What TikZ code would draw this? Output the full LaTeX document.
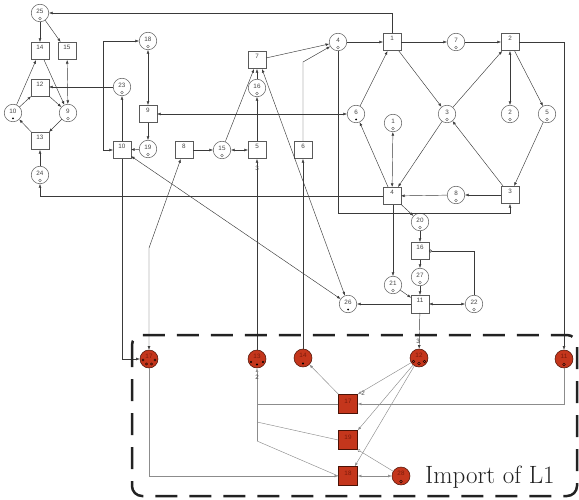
\documentclass[tikz,border=0pt]{standalone}
\usepackage{fontspec}
\newfontfamily\numfont{Liberation Sans}
\usetikzlibrary{arrows.meta}
\definecolor{ndraw}{HTML}{5A5A5A}
\definecolor{ldraw}{HTML}{3A3A3A}
\definecolor{numc}{HTML}{444444}
\definecolor{igray}{HTML}{8C8C8C}
\definecolor{ifill}{HTML}{C4361C}
\definecolor{idraw}{HTML}{4A1206}
\definecolor{inumc}{HTML}{7A1A0A}
\definecolor{dashc}{HTML}{222222}
\tikzset{
  num/.style={font=\numfont\fontsize{6.3}{7}\selectfont, text=numc, inner sep=0pt},
  inum/.style={font=\numfont\fontsize{6.3}{7}\selectfont, text=inumc, inner sep=0pt},
  plc/.style={circle, draw=ndraw, line width=0.5pt, minimum size=17.5pt, inner sep=0pt, label={[num,yshift=2pt]center:#1}},
  trn/.style={rectangle, draw=ndraw, line width=0.5pt, minimum size=17.5pt, inner sep=0pt, label={[num,yshift=4pt]center:#1}},
  iplc/.style={circle, draw=idraw, fill=ifill, line width=0.5pt, minimum size=18pt, inner sep=0pt, label={[inum,yshift=3pt]center:#1}},
  itrn/.style={rectangle, draw=idraw, fill=ifill, line width=0.5pt, minimum size=19pt, inner sep=0pt, label={[inum,yshift=3pt]center:#1}},
  omark/.style={circle, draw=ndraw, line width=0.4pt, inner sep=0pt, minimum size=2.8pt, yshift=-5.5pt},
  dmark/.style={circle, fill=black, inner sep=0pt, minimum size=2pt, yshift=-5.5pt},
  om/.style={label={[omark]center:{}}},
  dm/.style={label={[dmark]center:{}}},
  arr/.style={draw=ldraw, line width=0.45pt, -{Latex[length=3.6pt,width=2.8pt]}},
  bi/.style={draw=ldraw, line width=0.45pt, {Latex[length=3.6pt,width=2.8pt]}-{Latex[length=3.6pt,width=2.8pt]}},
  inh/.style={draw=ldraw, line width=0.45pt, -{Circle[open,length=3pt,width=3pt]}},
  iarr/.style={draw=igray, line width=0.45pt, -{Latex[length=3.6pt,width=2.8pt]}},
  ibi/.style={draw=igray, line width=0.45pt, {Latex[length=3.6pt,width=2.8pt]}-{Latex[length=3.6pt,width=2.8pt]}},
  iinh/.style={draw=igray, line width=0.45pt, -{Circle[open,length=3pt,width=3pt]}},
  iln/.style={draw=igray, line width=0.45pt},
  wt/.style={font=\numfont\fontsize{6.3}{7}\selectfont, text=numc, inner sep=0.5pt},
  tok/.style={draw=black, line width=0.4pt},
}
\begin{document}
\begin{tikzpicture}[x=1pt,y=-1pt]
\useasboundingbox (0,0) rectangle (579,500);
% ---------- places and transitions of the upper net ----------
\node[plc=25, om] (p25) at (40,13) {};
\node[trn=14] (t14) at (40,51) {};
\node[trn=15] (t15) at (67,51) {};
\node[trn=12] (t12) at (40,88) {};
\node[plc=10, dm] (p10) at (13,113) {};
\node[plc=9, om] (p9) at (68,113) {};
\node[trn=13] (t13) at (40,141) {};
\node[plc=24, om] (p24) at (40,175) {};
\node[plc=18, om] (p18) at (148,41) {};
\node[plc=23, om] (p23) at (122,87) {};
\node[trn=9] (t9) at (148,114) {};
\node[trn=10] (t10) at (122,150) {};
\node[plc=19, om] (p19) at (148,149) {};
\node[trn=8] (t8) at (184,150) {};
\node[plc=15, om] (p15) at (222,150) {};
\node[trn=5] (t5) at (257,150) {};
\node[trn=6] (t6) at (303,150) {};
\node[trn=7] (t7) at (257,60) {};
\node[plc=16, om] (p16) at (257,88) {};
\node[plc=4, om] (p4) at (338,42) {};
\node[trn=1] (t1) at (392,42) {};
\node[plc=7, om] (p7) at (456,42) {};
\node[trn=2] (t2) at (510,42) {};
\node[plc=6, dm] (p6) at (356,114) {};
\node[plc=1, om] (p1) at (393,123) {};
\node[plc=3, om] (p3) at (447,114) {};
\node[plc=2, om] (p2) at (510,114) {};
\node[plc=5, om] (p5) at (547,114) {};
\node[trn=4] (t4) at (392,196) {};
\node[plc=8, om] (p8) at (456,195) {};
\node[trn=3] (t3) at (510,195) {};
\node[plc=20, om] (p20) at (420,222) {};
\node[trn=16] (t16) at (420,251) {};
\node[plc=27, om] (p27) at (420,277) {};
\node[plc=21, om] (p21) at (393,285) {};
\node[trn=11] (t11) at (420,304) {};
\node[plc=22, om] (p22) at (474,304) {};
\node[plc=26, dm] (p26) at (348,304) {};
% ---------- import of L1 ----------
\node[iplc=17] (i17) at (149,359) {};
\node[iplc=13] (i13) at (257,359) {};
\node[iplc=14] (i14) at (303,358) {};
\node[iplc=12] (i12) at (419,358) {};
\node[iplc=11] (i11) at (564,359) {};
\node[itrn=17] (it17) at (348,404) {};
\node[itrn=19] (it19) at (348,440) {};
\node[itrn=18] (it18) at (348,476) {};
\node[iplc=28] (i28) at (401,476) {};
% tokens
\draw[tok] (i17) ++(-6,1) circle (1.2);
\draw[tok] (i17) ++(6,1) circle (1.2);
\draw[tok] (i17) ++(-2.5,5) circle (1.2);
\draw[tok] (i17) ++(2.5,5) circle (1.2);
\fill (i13) ++(-6,3) circle (1.2);
\fill (i13) ++(0,5.5) circle (1.2);
\fill (i13) ++(6,3) circle (1.2);
\fill (i14) ++(0,5.5) circle (1.2);
\draw[tok] (i12) ++(-5.5,3.5) circle (1.3);
\draw[tok] (i12) ++(0,5.5) circle (1.3);
\draw[tok] (i12) ++(5.5,3.5) circle (1.3);
\draw[tok] (i11) ++(0,5.5) circle (1.3);
\draw[tok] (i28) ++(0,5.5) circle (1.3);
% ---------- arcs, left cluster ----------
\draw[arr] (p25) -- (t14);
\draw[arr] (p25) -- (t15);
\draw[bi] (t15) -- (p9);
\draw[arr] (t14) -- (p9);
\draw[arr] (p10) -- (t14);
\draw[arr] (p10) -- (t12);
\draw[arr] (t12) -- (p9);
\draw[arr] (p9) -- (t13);
\draw[arr] (t13) -- (p10);
\draw[arr] (p24) -- (t13);
\draw[arr] (p23) -- (t12.east |- p23);
\draw[arr] (t4) -| (p24);
\draw[arr] (t1) |- (p25);
\coordinate (c18) at (103,0);
\draw[bi] (p18.west) -- (p18.west -| c18) -- (t10.west -| c18) -- (t10.west);
\draw[bi] (p18) -- (t9);
\draw[arr] (t9) -- (p19);
\draw[arr] (p19) -- (t10);
\draw[arr] (t10) -- (p23);
\draw[bi] (t9) -- (p6);
\draw[arr] (t8) -- (p15);
\draw[bi] (p15) -- (t5);
\draw[arr] (p15) -- ([xshift=-3pt]t7.south);
\draw[arr] (t5) -- (p16);
\draw[arr] (p16) -- (t7);
\draw[bi] (p26) -- ([xshift=5pt]t7.south);
\draw[arr] (t7) -- (p4);
\coordinate (c6) at (303,62);
\draw[arr] (t6) -- (c6) -- (p4);
\draw[arr] (i14) -- (t6);
\draw[arr] (i13) -- (t5);
\node[wt] (w3a) at (257,168) {3};
\draw[arr] (t10) |- (i17);
\coordinate (c8) at (149,248);
\draw[bi] (i17.north) -- (c8) -- (t8);
% ---------- arcs, right part ----------
\draw[arr] (p4) -- (t1);
\draw[arr] (t1) -- (p7);
\draw[arr] (p7) -- (t2);
\draw[arr] (t1) -- (p3);
\draw[arr] (p6) -- (t1);
\draw[arr] (p3) -- (t2);
\draw[bi] (t2) -- (p2);
\draw[arr] (t2) -- (p5);
\draw[arr] (p5) -- (t3);
\draw[arr] (t3) -- (p3);
\draw[arr] (p3) -- (t4);
\draw[arr] (t4) -- (p6);
\draw[bi] (t4) -- (p1);
\draw[arr] (t3) -- (p8);
\draw[arr] (p8) -- (t4);
\coordinate (c4) at (510,213);
\draw[arr] (p4) |- (c4) -- (t3);
\draw[arr] (t2) -| (i11);
% ---------- arcs, lower centre ----------
\draw[arr] (t4) -- (p20);
\draw[arr] (p20) -- (t16);
\draw[arr] (t16) -- (p27);
\draw[arr] (p27) -- (t11);
\draw[arr] (p21 |- t4.south) -- (p21);
\draw[arr] (p21) -- (t11);
\draw[arr] (t11) -- (p26);
\draw[bi] (t11) -- (p22);
\draw[inh] (p22) |- (t16);
\draw[arr] (t11) -- (i12);
\node[wt] (w3b) at (418,341) {3};
\draw[bi] (t10) -- (p26);
% ---------- arcs inside the import ----------
\draw[iarr] (i11) |- (it17);
\draw[iarr] (it17) -- (i14);
\draw[iarr] (i12) -- (it17.north east);
\node[wt] (w2a) at (363,393) {2};
\draw[iarr] (i12) -- (it19.north east);
\draw[iarr] (i12) -- ([xshift=-3pt]it18.north east);
\draw[iinh] (i28) -- (it19.south east);
\draw[ibi] (it18) -- (i28);
\draw[iarr] (i17) |- (it18);
\coordinate (c13a) at (257,422);
\coordinate (c13b) at (257,441);
\draw[iln] (it17.west) -- (it17.west -| c13a);
\draw[iln] (it19.west) -- (c13a);
\draw[iln] (it18.west) -- (c13b);
\draw[iarr] (c13b) -- (i13);
\node[wt] (w2b) at (257,377) {2};
% ---------- frame ----------
\draw[dashc, line width=2.5pt, rounded corners=10pt, dash pattern=on 22pt off 12pt] (132,335) rectangle (577,496);
\node[anchor=base west, inner sep=0pt, font=\fontsize{25}{25}\selectfont, text=dashc] (imp) at (425,483) {Import of L1};
\end{tikzpicture}
\end{document}
